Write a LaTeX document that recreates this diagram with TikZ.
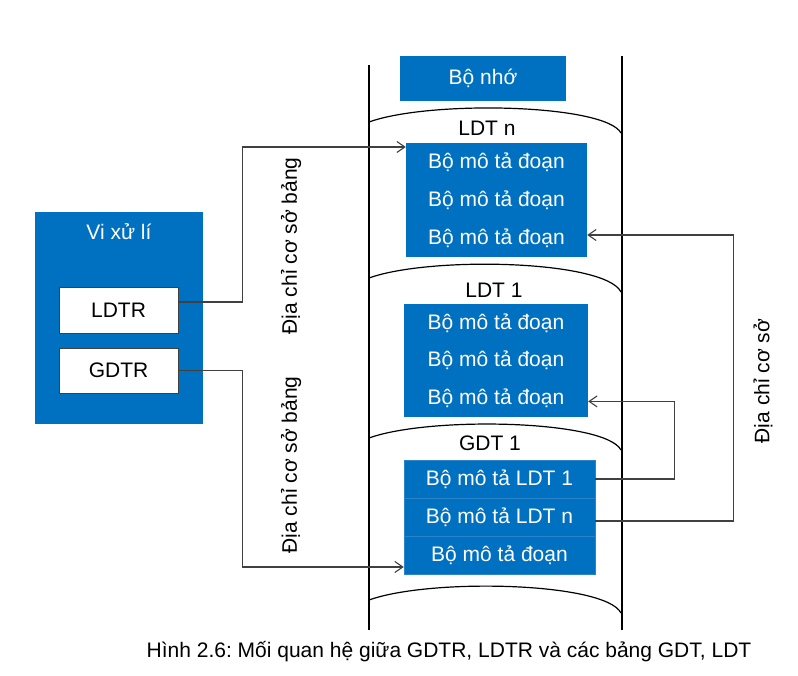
\documentclass[tikz,border=0pt]{standalone}
\usepackage{fontspec}
\setmainfont{Liberation Sans}
\usetikzlibrary{arrows.meta}
\definecolor{myblue}{HTML}{0070C0}
\definecolor{edgeblue}{HTML}{2C84C8}
\definecolor{conngray}{HTML}{404040}
\tikzset{
  txt/.style={font=\fontsize{21}{25}\selectfont},
  rowbox/.style={txt, fill=myblue, text=white, inner sep=0pt, minimum height=38pt},
  rowboxe/.style={rowbox, draw=edgeblue, line width=0.5pt},
  regbox/.style={txt, fill=white, draw=conngray, line width=0.8pt, inner sep=0pt, minimum width=119pt, minimum height=46pt},
  conn/.style={draw=conngray, line width=1.2pt},
  arr/.style={conn, -{Straight Barb[length=8pt,width=11pt,line width=1.1pt]}},
  memline/.style={line width=2.4pt, black},
  arcline/.style={line width=1.2pt, black},
  lbl/.style={txt, text=black, inner sep=0pt},
}
\frenchspacing
\begin{document}
\begin{tikzpicture}[x=1pt,y=-1pt]
\path[use as bounding box, fill=white] (0,0) rectangle (798,676);

% memory boundaries
\draw[memline] (369,65) -- (369,630);
\draw[memline] (622,56) -- (622,630);

% arcs
\foreach \L/\R in {122/133, 278/292, 438/450, 600/613}{
  \draw[arcline] (369,\L) .. controls (430,\L-22) and (605,\L-18) .. (621,\R);
}

% memory title
\node[rowbox, minimum width=166pt, minimum height=45pt] (mem) at (483,78.5) {Bộ nhớ};

% table labels
\node[lbl] (ldtn) at (487,128) {LDT n};
\node[lbl] (ldt1) at (494,290) {LDT 1};
\node[lbl] (gdt1) at (490,443) {GDT 1};

% LDT n group
\node[rowbox, minimum width=181pt] (r11) at (496.5,162) {Bộ mô tả đoạn};
\node[rowbox, minimum width=181pt] (r12) at (496.5,200) {Bộ mô tả đoạn};
\node[rowbox, minimum width=181pt] (r13) at (496.5,238) {Bộ mô tả đoạn};

% LDT 1 group
\node[rowbox, minimum width=184pt, minimum height=37.7pt] (r21) at (496,323) {Bộ mô tả đoạn};
\node[rowbox, minimum width=184pt, minimum height=37.7pt] (r22) at (496,360.7) {Bộ mô tả đoạn};
\node[rowbox, minimum width=184pt, minimum height=37.7pt] (r23) at (496,398.4) {Bộ mô tả đoạn};

% GDT 1 group
\node[rowboxe, minimum width=191pt] (r31) at (499.5,479) {Bộ mô tả LDT 1};
\node[rowboxe, minimum width=191pt] (r32) at (499.5,517) {Bộ mô tả LDT n};
\node[rowboxe, minimum width=191pt] (r33) at (499.5,555) {Bộ mô tả đoạn};

% processor
\node[fill=myblue, minimum width=168pt, minimum height=212pt, inner sep=0pt] (cpu) at (119,318) {};
\node[lbl, text=white] (cputitle) at (119,232) {Vi xử lí};
\node[regbox] (ldtr) at (118.5,310) {LDTR};
\node[regbox, minimum height=45pt] (gdtr) at (118.5,370.5) {GDTR};

% connectors
\draw[arr] ([yshift=8pt]ldtr.east) -- ++(64,0) |- ([yshift=15pt]r11.west);
\draw[arr] (gdtr.east) -- ++(64,0) |- ([yshift=-12pt]r33.west);
\draw[arr] (r31.east) -- ++(79,0) |- ([yshift=-3pt]r23.east);
\draw[arr] ([yshift=-4pt]r32.east) -- ++(138,0) |- ([yshift=3pt]r13.east);

% rotated labels
\node[lbl, rotate=90] (lab1) at (291,246) {Địa chỉ cơ sở bảng};
\node[lbl, rotate=90] (lab2) at (291,465) {Địa chỉ cơ sở bảng};
\node[lbl, rotate=90] (lab3) at (763,381) {Địa chỉ cơ sở};

% caption
\node[lbl] (cap) at (449,652) {Hình 2.6: Mối quan hệ giữa GDTR, LDTR và các bảng GDT, LDT};
\end{tikzpicture}
\end{document}
